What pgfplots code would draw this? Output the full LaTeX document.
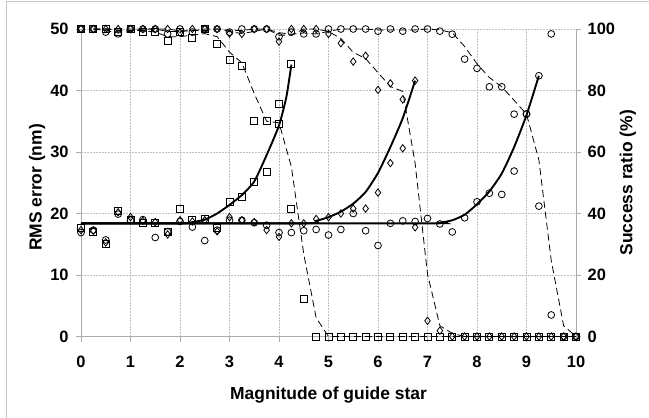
\documentclass[border=0pt]{standalone}
\usepackage{fontspec}
\setmainfont{Liberation Sans}
\usepackage{pgfplots}
\pgfplotsset{compat=1.18}
\usepackage{pgfplotstable}

% RMS error (nm)
\pgfplotstableread{
x y
0 17.7
0.25 17.0
0.5 15.0
0.75 20.4
1 18.9
1.25 18.5
1.5 18.5
1.75 17.0
2 20.7
2.25 18.9
2.5 19.1
2.75 17.6
3 21.9
3.25 22.7
3.5 25.2
3.75 26.8
4 37.8
4.25 44.3
}\sqrms
\pgfplotstableread{
x y
0 17.3
0.25 17.2
0.5 15.3
0.75 20.2
1 19.4
1.25 18.8
1.5 18.6
1.75 16.6
2 18.9
2.25 18.7
2.5 18.9
2.75 17.1
3 19.4
3.25 18.9
3.5 18.6
3.75 17.3
4 16.2
4.25 18.4
4.5 18.4
4.75 19.1
5 19.4
5.25 20.0
5.5 20.8
5.75 20.8
6 23.4
6.25 28.2
6.5 30.6
6.75 41.6
}\dmrms
\pgfplotstableread{
x y
0 16.9
0.25 17.3
0.5 15.7
0.75 19.9
1 18.9
1.25 19.0
1.5 16.1
1.75 17.0
2 18.7
2.25 17.8
2.5 15.6
2.75 17.3
3 18.9
3.25 18.9
3.5 18.5
3.75 18.1
4 16.9
4.25 16.9
4.5 17.2
4.75 17.4
5 16.5
5.25 17.4
5.5 20.0
5.75 17.2
6 14.8
6.25 18.4
6.5 18.8
6.75 18.7
7 19.2
7.25 18.3
7.5 17.0
7.75 19.3
8 21.9
8.25 23.3
8.5 23.1
8.75 26.9
9 36.2
9.25 42.4
9.5 49.2
}\cirms
% fitted curves (nm)
\pgfplotstableread{
x y
0 18.4
2.0 18.4
2.25 18.6
2.5 19.0
2.75 20.0
3 21.4
3.25 23.0
3.5 25.2
3.75 29.5
4 34.3
4.15 39.0
4.25 44.2
}\sqfit
\pgfplotstableread{
x y
0 18.4
4.5 18.4
4.75 18.8
5 19.4
5.25 20.3
5.5 21.6
5.75 23.5
6 26.6
6.25 30.8
6.5 35.5
6.75 41.6
}\dmfit
\pgfplotstableread{
x y
0 18.4
7.0 18.4
7.25 18.5
7.5 18.9
7.75 19.8
8 21.5
8.25 23.6
8.5 26.5
8.75 30.8
9 36.0
9.25 42.4
}\cifit
% success ratio (%)
\pgfplotstableread{
x y
0 100
0.25 100
0.5 100
0.75 99
1 100
1.25 99
1.5 99
1.75 96
2 99
2.25 97
2.5 100
2.75 95
3 90
3.25 88
3.5 70
3.75 70
4 69
4.25 41.4
4.5 12.2
4.75 0
5 0
5.25 0
5.5 0
5.75 0
6 0
6.25 0
6.5 0
6.75 0
7 0
7.25 0
7.5 0
7.75 0
8 0
8.25 0
8.5 0
8.75 0
9 0
9.25 0
9.5 0
9.75 0
10 0
}\sqsr
\pgfplotstableread{
x y
0 100
0.25 100
0.5 100
0.75 100
1 100
1.25 100
1.5 100
1.75 100
2 98.8
2.25 100
2.5 100
2.75 100
3 98.5
3.25 98.4
3.5 100
3.75 100
4 95.9
4.25 100
4.5 100
4.75 100
5 98.4
5.25 95.4
5.5 89.4
5.75 91.3
6 80.2
6.25 82.3
6.5 77.1
6.75 35.5
7 5.1
7.25 1.9
7.5 0
7.75 0
8 0
8.25 0
8.5 0
8.75 0
9 0
9.25 0
9.5 0
9.75 0
10 0
}\dmsr
\pgfplotstableread{
x y
0 100
0.25 100
0.5 99
0.75 98.4
1 100
1.25 100
1.5 100
1.75 98.4
2 100
2.25 99
2.5 100
2.75 100
3 99
3.25 100
3.5 100
3.75 100
4 97.5
4.25 99
4.5 98.4
4.75 98.4
5 100
5.25 100
5.5 100
5.75 100
6 99.3
6.25 100
6.5 99.3
6.75 100
7 100
7.25 99.3
7.5 98.3
7.75 90.2
8 87.2
8.25 81.2
8.5 81.2
8.75 72.3
9 72.3
9.25 42.4
9.5 7
9.75 0
10 0
}\cisr
% 2-point moving averages of success ratio (%)
\pgfplotstableread{
x y
0.25 100
0.5 100
0.75 99.5
1 99.5
1.25 99.5
1.5 99
1.75 97.5
2 97.5
2.25 98
2.5 98.5
2.75 97.5
3 92.5
3.25 89
3.5 79
3.75 70
4 69.5
4.25 55.2
4.5 26.8
4.75 6.1
5 0
10 0
}\sqma
\pgfplotstableread{
x y
0.25 100
0.5 100
0.75 100
1 100
1.25 100
1.5 100
1.75 100
2 99.4
2.25 99.4
2.5 100
2.75 100
3 99.2
3.25 98.5
3.5 99.2
3.75 100
4 98
4.25 98
4.5 100
4.75 100
5 99.2
5.25 96.9
5.5 92.4
5.75 90.4
6 85.8
6.25 81.3
6.5 79.7
6.75 56.3
7 20.3
7.25 3.5
7.5 1.0
7.75 0
10 0
}\dmma
\pgfplotstableread{
x y
0.25 100
0.5 99.5
0.75 98.7
1 99.2
1.25 100
1.5 100
1.75 99.2
2 99.2
2.25 99.5
2.5 99.5
2.75 100
3 99.5
3.25 99.5
3.5 100
3.75 100
4 98.8
4.25 98.3
4.5 98.7
4.75 98.4
5 99.2
5.25 100
5.5 100
5.75 100
6 99.7
6.25 99.7
6.5 99.7
6.75 99.7
7 100
7.25 99.7
7.5 98.8
7.75 94.3
8 88.7
8.25 84.2
8.5 81.2
8.75 76.8
9 72.3
9.25 57.4
9.5 24.7
9.75 3.5
10 0
}\cima

\pgfplotsset{
  base/.style={
    at={(81bp,81.5bp)}, anchor=south west,
    scale only axis, width=495bp, height=307.5bp,
    xmin=0, xmax=10, clip=false,
    axis line style={gray!65,-,line width=0.8bp},
    tick style={gray!65,line width=0.8bp},
    tick align=outside, major tick length=5bp,
    /pgf/number format/assume math mode=true,
    ticklabel style={font=\fontsize{16.5}{19}\selectfont\bfseries, inner sep=0pt},
    label style={font=\fontsize{17.5}{20}\selectfont\bfseries},
  },
  sqm/.style={only marks, mark=square, mark size=3.5bp, mark options={black,line width=0.8bp}},
  dmm/.style={only marks, mark=diamond, mark size=3.7bp, mark options={black,line width=0.8bp}},
  cim/.style={only marks, mark=o, mark size=3.4bp, mark options={black,line width=0.8bp}},
  fit/.style={black, line width=1.9bp, no marks, smooth, tension=0.35},
  ma/.style={black, line width=0.8bp, no marks, dash pattern=on 7bp off 4bp},
}

\begin{document}
\begin{tikzpicture}
\draw[gray!45, line width=1bp] (6.7bp,-10bp) -- (6.7bp,416bp) -- (670bp,416bp);
\begin{axis}[base,
  ymin=0, ymax=50, xtick={0,1,...,10}, ytick={0,10,...,50},
  axis x line*=bottom, axis y line*=left,
  grid=major,
  major grid style={gray!50, dash pattern=on 1.5bp off 1.5bp, line width=0.6bp},
  xticklabel shift=14bp, yticklabel shift=7.2bp,
  xlabel={Magnitude of guide star}, ylabel={RMS error (nm)},
  xlabel style={at={(axis description cs:0.5,-0.2042)}, anchor=base},
  ylabel style={at={(axis description cs:-0.0794,0.4846)}, anchor=base},
]
\addplot[fit] table {\sqfit};
\addplot[fit] table {\dmfit};
\addplot[fit] table {\cifit};
\addplot[sqm] table {\sqrms};
\addplot[dmm] table {\dmrms};
\addplot[cim] table {\cirms};
\end{axis}
\begin{axis}[base,
  ymin=0, ymax=100, ytick={0,20,...,100},
  axis x line=none, axis y line*=right,
  yticklabel shift=6.5bp,
  ylabel={Success ratio (\%)},
  ylabel style={at={(axis description cs:1.1141,0.5)}, anchor=base},
]
\addplot[ma] table {\sqma};
\addplot[ma] table {\dmma};
\addplot[ma] table {\cima};
\addplot[sqm] table {\sqsr};
\addplot[dmm] table {\dmsr};
\addplot[cim] table {\cisr};
\end{axis}
\pgfresetboundingbox
\path[use as bounding box] (0,0) rectangle (649bp,418bp);
\end{tikzpicture}
\end{document}
